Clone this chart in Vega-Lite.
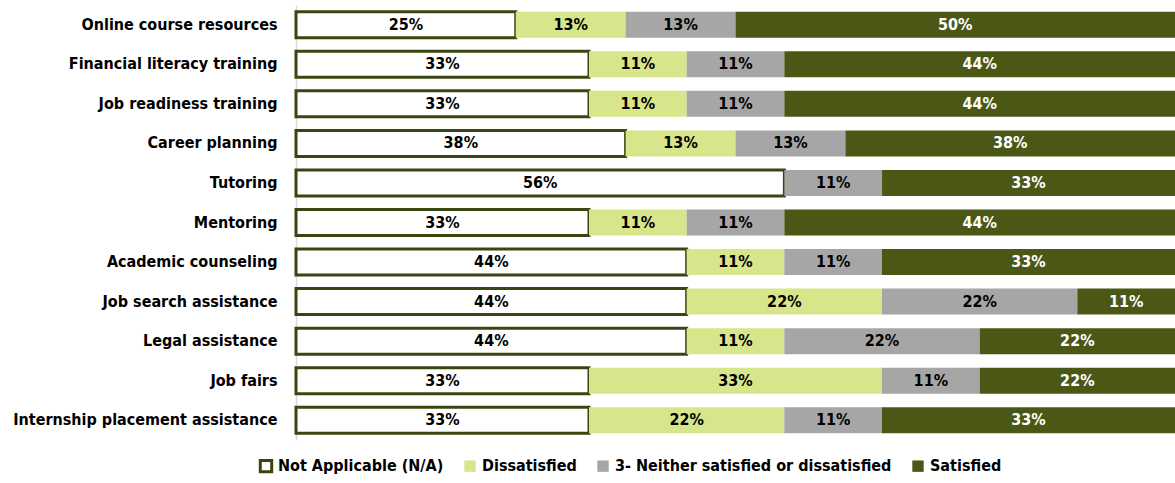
{
  "$schema": "https://vega.github.io/schema/vega-lite/v6.json",
  "width": 879,
  "height": 435,
  "autosize": {"type": "none"},
  "padding": {"left": 296, "top": 5, "right": 0, "bottom": 43},
  "background": "white",
  "config": {
    "view": {"stroke": null},
    "font": "'Liberation Sans Narrow', 'DejaVu Sans Condensed', 'Liberation Sans', sans-serif"
  },
  "data": {
    "values": [
      {"item": "Online course resources", "resp": "Not Applicable (N/A)", "v": 0.25},
      {"item": "Online course resources", "resp": "Dissatisfied", "v": 0.125},
      {"item": "Online course resources", "resp": "3- Neither satisfied or dissatisfied", "v": 0.125},
      {"item": "Online course resources", "resp": "Satisfied", "v": 0.5},
      {"item": "Financial literacy training", "resp": "Not Applicable (N/A)", "v": 0.3333},
      {"item": "Financial literacy training", "resp": "Dissatisfied", "v": 0.1111},
      {"item": "Financial literacy training", "resp": "3- Neither satisfied or dissatisfied", "v": 0.1111},
      {"item": "Financial literacy training", "resp": "Satisfied", "v": 0.4444},
      {"item": "Job readiness training", "resp": "Not Applicable (N/A)", "v": 0.3333},
      {"item": "Job readiness training", "resp": "Dissatisfied", "v": 0.1111},
      {"item": "Job readiness training", "resp": "3- Neither satisfied or dissatisfied", "v": 0.1111},
      {"item": "Job readiness training", "resp": "Satisfied", "v": 0.4444},
      {"item": "Career planning", "resp": "Not Applicable (N/A)", "v": 0.375},
      {"item": "Career planning", "resp": "Dissatisfied", "v": 0.125},
      {"item": "Career planning", "resp": "3- Neither satisfied or dissatisfied", "v": 0.125},
      {"item": "Career planning", "resp": "Satisfied", "v": 0.375},
      {"item": "Tutoring", "resp": "Not Applicable (N/A)", "v": 0.5556},
      {"item": "Tutoring", "resp": "3- Neither satisfied or dissatisfied", "v": 0.1111},
      {"item": "Tutoring", "resp": "Satisfied", "v": 0.3333},
      {"item": "Mentoring", "resp": "Not Applicable (N/A)", "v": 0.3333},
      {"item": "Mentoring", "resp": "Dissatisfied", "v": 0.1111},
      {"item": "Mentoring", "resp": "3- Neither satisfied or dissatisfied", "v": 0.1111},
      {"item": "Mentoring", "resp": "Satisfied", "v": 0.4444},
      {"item": "Academic counseling", "resp": "Not Applicable (N/A)", "v": 0.4444},
      {"item": "Academic counseling", "resp": "Dissatisfied", "v": 0.1111},
      {"item": "Academic counseling", "resp": "3- Neither satisfied or dissatisfied", "v": 0.1111},
      {"item": "Academic counseling", "resp": "Satisfied", "v": 0.3333},
      {"item": "Job search assistance", "resp": "Not Applicable (N/A)", "v": 0.4444},
      {"item": "Job search assistance", "resp": "Dissatisfied", "v": 0.2222},
      {"item": "Job search assistance", "resp": "3- Neither satisfied or dissatisfied", "v": 0.2222},
      {"item": "Job search assistance", "resp": "Satisfied", "v": 0.1111},
      {"item": "Legal assistance", "resp": "Not Applicable (N/A)", "v": 0.4444},
      {"item": "Legal assistance", "resp": "Dissatisfied", "v": 0.1111},
      {"item": "Legal assistance", "resp": "3- Neither satisfied or dissatisfied", "v": 0.2222},
      {"item": "Legal assistance", "resp": "Satisfied", "v": 0.2222},
      {"item": "Job fairs", "resp": "Not Applicable (N/A)", "v": 0.3333},
      {"item": "Job fairs", "resp": "Dissatisfied", "v": 0.3333},
      {"item": "Job fairs", "resp": "3- Neither satisfied or dissatisfied", "v": 0.1111},
      {"item": "Job fairs", "resp": "Satisfied", "v": 0.2222},
      {"item": "Internship placement assistance", "resp": "Not Applicable (N/A)", "v": 0.3333},
      {"item": "Internship placement assistance", "resp": "Dissatisfied", "v": 0.2222},
      {"item": "Internship placement assistance", "resp": "3- Neither satisfied or dissatisfied", "v": 0.1111},
      {"item": "Internship placement assistance", "resp": "Satisfied", "v": 0.3333}
    ]
  },
  "transform": [
    {"calculate": "indexof(['Not Applicable (N/A)','Dissatisfied','3- Neither satisfied or dissatisfied','Satisfied'], datum.resp)", "as": "ord"},
    {"stack": "v", "groupby": ["item"], "sort": [{"field": "ord", "order": "ascending"}], "offset": "normalize", "as": ["x0", "x1"]},
    {"calculate": "(datum.x0 + datum.x1) / 2", "as": "xm"}
  ],
  "encoding": {
    "y": {
      "field": "item",
      "type": "nominal",
      "sort": ["Online course resources", "Financial literacy training", "Job readiness training", "Career planning", "Tutoring", "Mentoring", "Academic counseling", "Job search assistance", "Legal assistance", "Job fairs", "Internship placement assistance"],
      "scale": {"paddingInner": 0.34, "paddingOuter": 0.17},
      "axis": {
        "title": null,
        "ticks": false,
        "domain": true,
        "domainColor": "#d9d9d9",
        "domainWidth": 1.5,
        "labelFont": "'Liberation Sans Narrow', 'DejaVu Sans Condensed', 'Liberation Sans', sans-serif",
        "labelFontSize": 16,
        "labelFontWeight": "bold",
        "labelColor": "#000000",
        "labelPadding": 19,
        "labelLimit": 400
      }
    }
  },
  "layer": [
    {
      "mark": {"type": "bar", "size": 26, "strokeWidth": 3},
      "encoding": {
        "x": {"field": "x0", "type": "quantitative", "scale": {"domain": [0, 1], "nice": false}, "axis": null},
        "x2": {"field": "x1"},
        "color": {
          "field": "resp",
          "type": "nominal",
          "scale": {
            "domain": ["Not Applicable (N/A)", "Dissatisfied", "3- Neither satisfied or dissatisfied", "Satisfied"],
            "range": ["#ffffff", "#d7e68a", "#a6a6a6", "#4b5815"]
          },
          "legend": {
            "title": null,
            "orient": "none",
            "direction": "horizontal",
            "legendX": -38,
            "legendY": 453,
            "symbolType": "square",
            "symbolSize": 130,
            "symbolStrokeWidth": 3,
            "labelFont": "'Liberation Sans Narrow', 'DejaVu Sans Condensed', 'Liberation Sans', sans-serif",
            "labelFontSize": 16,
            "labelFontWeight": "bold",
            "labelColor": "#000000",
            "columnPadding": 14,
            "labelOffset": 4,
            "labelLimit": 400
          }
        },
        "stroke": {
          "field": "resp",
          "type": "nominal",
          "scale": {
            "domain": ["Not Applicable (N/A)", "Dissatisfied", "3- Neither satisfied or dissatisfied", "Satisfied"],
            "range": ["#3b4511", "transparent", "transparent", "transparent"]
          },
          "legend": {
            "title": null,
            "orient": "none",
            "direction": "horizontal",
            "legendX": -38,
            "legendY": 453,
            "symbolType": "square",
            "symbolSize": 130,
            "symbolStrokeWidth": 3,
            "labelFont": "'Liberation Sans Narrow', 'DejaVu Sans Condensed', 'Liberation Sans', sans-serif",
            "labelFontSize": 16,
            "labelFontWeight": "bold",
            "labelColor": "#000000",
            "columnPadding": 14,
            "labelOffset": 4,
            "labelLimit": 400
          }
        },
        "order": {"field": "ord"}
      }
    },
    {
      "mark": {"type": "text", "font": "'Liberation Sans Narrow', 'DejaVu Sans Condensed', 'Liberation Sans', sans-serif", "fontSize": 16, "fontWeight": "bold", "baseline": "middle", "align": "center"},
      "encoding": {
        "x": {"field": "xm", "type": "quantitative"},
        "text": {"field": "v", "type": "quantitative", "format": ".0%"},
        "color": {
          "condition": {"test": "datum.resp === 'Satisfied'", "value": "#ffffff"},
          "value": "#000000"
        }
      }
    }
  ]
}
